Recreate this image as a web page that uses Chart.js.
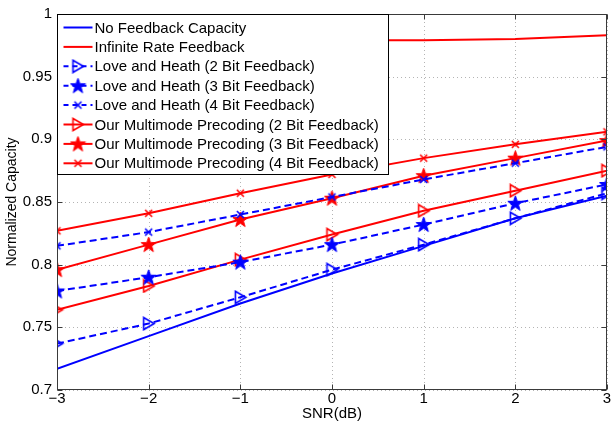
<!DOCTYPE html>
<html>
<head>
<meta charset="utf-8">
<script src="https://cdn.jsdelivr.net/npm/chart.js@4/dist/chart.umd.min.js"></script>
<style>
html,body{margin:0;padding:0;background:#fff;}
#wrap{width:615px;height:432px;position:relative;}
</style>
</head>
<body>
<div id="wrap"><canvas id="c" width="615" height="432"></canvas></div>
<script>
// ---- data ----
const snr = [-3, -2, -1, 0, 1, 2, 3];
const noFeedback = [0.717, 0.743, 0.769, 0.793, 0.815, 0.837, 0.855];
const infiniteRate = [0.979, 0.979, 0.979, 0.979, 0.979, 0.980, 0.983];
const loveHeath2 = [0.737, 0.753, 0.774, 0.796, 0.816, 0.837, 0.857];
const loveHeath3 = [0.779, 0.790, 0.802, 0.816, 0.832, 0.849, 0.864];
const loveHeath4 = [0.815, 0.826, 0.840, 0.854, 0.868, 0.881, 0.894];
const ours2 = [0.764, 0.783, 0.804, 0.824, 0.843, 0.859, 0.875];
const ours3 = [0.796, 0.816, 0.836, 0.853, 0.871, 0.885, 0.899];
const ours4 = [0.827, 0.841, 0.857, 0.872, 0.885, 0.896, 0.906];
const seriesLabels = [
  'No Feedback Capacity',
  'Infinite Rate Feedback',
  'Love and Heath (2 Bit Feedback)',
  'Love and Heath (3 Bit Feedback)',
  'Love and Heath (4 Bit Feedback)',
  'Our Multimode Precoding (2 Bit Feedback)',
  'Our Multimode Precoding (3 Bit Feedback)',
  'Our Multimode Precoding (4 Bit Feedback)'
];
const xTicks = [-3, -2, -1, 0, 1, 2, 3];
const yTicks = [0.7, 0.75, 0.8, 0.85, 0.9, 0.95, 1];

const BLUE = '#0000ff', RED = '#ff0000';
const FONT = '"Liberation Sans", Arial, sans-serif';

// ---- marker images ----
function mk(w, h, draw) {
  const c = document.createElement('canvas');
  c.width = w; c.height = h;
  draw(c.getContext('2d'));
  return c;
}
function triImg(col) {
  return mk(15, 15, g => {
    g.strokeStyle = col; g.lineWidth = 1.6;
    g.beginPath(); g.moveTo(2.5, 1.5); g.lineTo(13, 7.5); g.lineTo(2.5, 13.5); g.closePath(); g.stroke();
  });
}
function starImg(col) {
  return mk(17, 17, g => {
    g.fillStyle = col; g.strokeStyle = col; g.lineWidth = 1;
    g.beginPath();
    for (let i = 0; i < 10; i++) {
      const r = i % 2 === 0 ? 8 : 3.2;
      const a = -Math.PI / 2 + i * Math.PI / 5;
      const px = 8.5 + r * Math.cos(a), py = 9 + r * Math.sin(a);
      i === 0 ? g.moveTo(px, py) : g.lineTo(px, py);
    }
    g.closePath(); g.fill(); g.stroke();
  });
}
function xImg(col) {
  return mk(11, 11, g => {
    g.strokeStyle = col; g.lineWidth = 1.6;
    g.beginPath(); g.moveTo(2, 2); g.lineTo(9, 9); g.moveTo(9, 2); g.lineTo(2, 9); g.stroke();
  });
}

const pts = arr => snr.map((x, i) => ({x: x, y: arr[i]}));
const DASH = [7, 4];

function ds(label, arr, col, dash, img) {
  return {
    label: label, data: pts(arr), borderColor: col, backgroundColor: col,
    borderWidth: 2, borderDash: dash, fill: false, tension: 0,
    pointStyle: img || false, pointRadius: img ? 6 : 0, pointHoverRadius: img ? 6 : 0,
    _img: img
  };
}

const datasets = [
  ds(seriesLabels[0], noFeedback, BLUE, [], null),
  ds(seriesLabels[1], infiniteRate, RED, [], null),
  ds(seriesLabels[2], loveHeath2, BLUE, DASH, triImg(BLUE)),
  ds(seriesLabels[3], loveHeath3, BLUE, DASH, starImg(BLUE)),
  ds(seriesLabels[4], loveHeath4, BLUE, DASH, xImg(BLUE)),
  ds(seriesLabels[5], ours2, RED, [], triImg(RED)),
  ds(seriesLabels[6], ours3, RED, [], starImg(RED)),
  ds(seriesLabels[7], ours4, RED, [], xImg(RED))
];

// ---- plugin: grid, box, inward ticks, legend ----
const frame = {
  id: 'frame',
  beforeDatasetsDraw(chart) {
    const {ctx, chartArea: a, scales: {x, y}} = chart;
    ctx.save();
    ctx.strokeStyle = '#b4b4b4'; ctx.lineWidth = 1; ctx.setLineDash([1, 3]);
    xTicks.forEach(v => { const px = Math.round(x.getPixelForValue(v)) + 0.5;
      ctx.beginPath(); ctx.moveTo(px, a.top); ctx.lineTo(px, a.bottom); ctx.stroke(); });
    yTicks.forEach(v => { const py = Math.round(y.getPixelForValue(v)) + 0.5;
      ctx.beginPath(); ctx.moveTo(a.left, py); ctx.lineTo(a.right, py); ctx.stroke(); });
    ctx.restore();
  },
  afterDatasetsDraw(chart) {
    const {ctx, chartArea: a, scales: {x, y}} = chart;
    ctx.save();
    ctx.strokeStyle = '#3a3a3a'; ctx.lineWidth = 1; ctx.setLineDash([]);
    const L = Math.round(a.left) + 0.5, R = Math.round(a.right) - 0.5, T = Math.round(a.top) + 0.5, B = Math.round(a.bottom) - 0.5;
    ctx.strokeRect(L, T, R - L, B - T);
    const tl = 5;
    ctx.beginPath();
    xTicks.forEach(v => { const px = Math.round(x.getPixelForValue(v)) + 0.5;
      ctx.moveTo(px, B); ctx.lineTo(px, B - tl); ctx.moveTo(px, T); ctx.lineTo(px, T + tl); });
    yTicks.forEach(v => { const py = Math.round(y.getPixelForValue(v)) + 0.5;
      ctx.moveTo(L, py); ctx.lineTo(L + tl, py); ctx.moveTo(R, py); ctx.lineTo(R - tl, py); });
    ctx.stroke();

    // legend
    const lx = L, ly = T, lw = 331, lh = 160;
    ctx.fillStyle = '#fff'; ctx.fillRect(lx, ly, lw, lh);
    ctx.strokeStyle = '#000'; ctx.strokeRect(lx, ly, lw, lh);
    ctx.font = '15px ' + FONT; ctx.textBaseline = 'middle'; ctx.fillStyle = '#000';
    chart.data.datasets.forEach((d, i) => {
      const cy = ly + 13 + i * 19.4;
      ctx.strokeStyle = d.borderColor; ctx.lineWidth = 2;
      ctx.setLineDash(d.borderDash && d.borderDash.length ? [5, 4] : []);
      ctx.beginPath(); ctx.moveTo(lx + 6, cy); ctx.lineTo(lx + 35, cy); ctx.stroke();
      ctx.setLineDash([]);
      if (d._img) { const im = d._img; ctx.drawImage(im, lx + 20.5 - im.width / 2, cy - im.height / 2); }
      ctx.fillStyle = '#000';
      ctx.fillText(d.label, lx + 37, cy + 1);
    });
    ctx.restore();
  }
};

new Chart(document.getElementById('c'), {
  type: 'line',
  data: {datasets: datasets},
  options: {
    responsive: false, animation: false, devicePixelRatio: 1,
    layout: {padding: {top: 11, right: 2, left: 0, bottom: 0}},
    plugins: {legend: {display: false}, tooltip: {enabled: false}},
    scales: {
      x: {
        type: 'linear', min: -3, max: 3,
        afterFit: s => { s.height = 42; },
        afterBuildTicks: s => { s.ticks = xTicks.map(v => ({value: v})); },
        grid: {display: false, drawTicks: false}, border: {display: false},
        ticks: {autoSkip: false, maxRotation: 0, padding: 0, color: '#000', font: {family: FONT, size: 15},
          callback: v => (v < 0 ? '\u2212' + Math.abs(v) : String(v))},
        title: {display: true, text: 'SNR(dB)', color: '#000', font: {family: FONT, size: 15}, padding: {top: 0, bottom: 9}}
      },
      y: {
        type: 'linear', min: 0.7, max: 1,
        afterFit: s => { s.width = 57; },
        afterBuildTicks: s => { s.ticks = yTicks.map(v => ({value: v})); },
        grid: {display: false, drawTicks: false}, border: {display: false},
        ticks: {autoSkip: false, padding: 5, color: '#000', font: {family: FONT, size: 15},
          callback: v => String(Number(v.toFixed(2)))},
        title: {display: true, text: 'Normalized Capacity', color: '#000', font: {family: FONT, size: 14}, padding: {top: 4, bottom: 0}}
      }
    }
  },
  plugins: [frame]
});
</script>
</body>
</html>
